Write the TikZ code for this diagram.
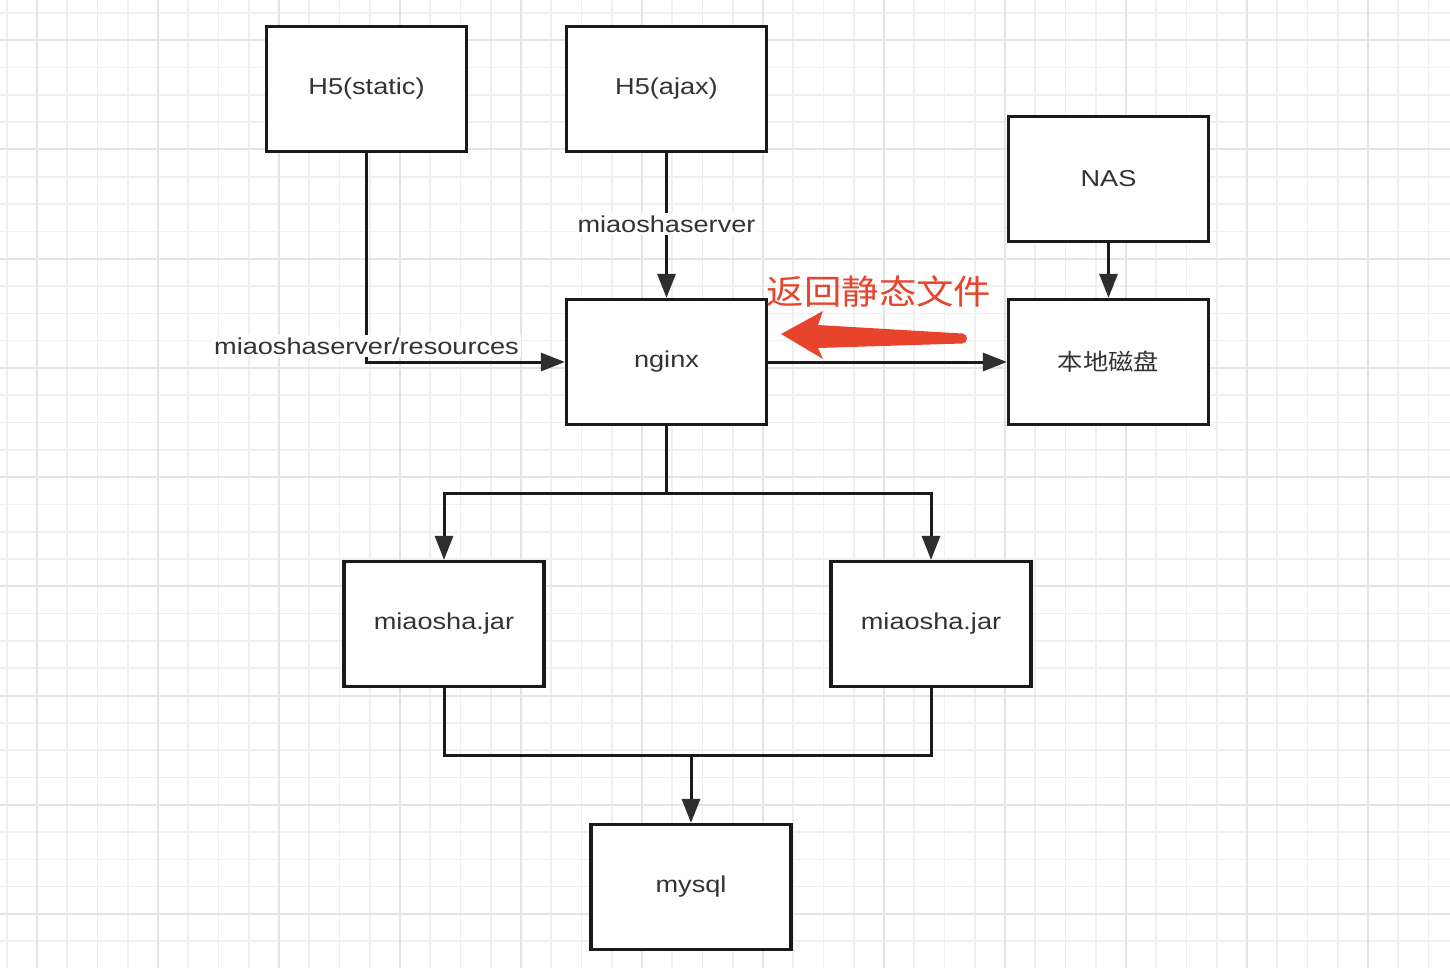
\documentclass[tikz,border=0pt]{standalone}
\usepackage{fontspec}
\usetikzlibrary{arrows.meta}
\newfontfamily\latf{Liberation Sans}[FakeStretch=1.18]
\newfontfamily\cjkf{Noto Sans CJK SC}[FakeStretch=1.1]
\definecolor{gthin}{HTML}{EFEFEF}
\definecolor{gthick}{HTML}{E4E4E4}
\definecolor{ink}{HTML}{1A1A1A}
\definecolor{tipc}{HTML}{2E2E2E}
\definecolor{txt}{HTML}{333333}
\definecolor{redc}{HTML}{E8442B}
\begin{document}
\begin{tikzpicture}[x=1pt,y=-1pt,
  box/.style={draw=ink,line width=3.2pt,fill=white,minimum width=200pt,minimum height=125pt,inner sep=0pt,text=txt,font=\latf\fontsize{23}{26}\selectfont},
  conn/.style={draw=ink,line width=3pt,-{Triangle[length=24pt,width=18pt,color=tipc]}},
  plain/.style={draw=ink,line width=3pt},
  lab/.style={fill=white,text=txt,inner xsep=2pt,inner ysep=3pt,font=\latf\fontsize{23}{26}\selectfont},
  redlab/.style={text=redc,inner sep=0pt,font=\cjkf\fontsize{34}{40}\selectfont},
  gridthin/.style={draw=gthin,line width=1.6pt},
  gridthick/.style={draw=gthick,line width=2pt}]
\useasboundingbox (0,0) rectangle (1450,968);
\fill[white] (0,0) rectangle (1450,968);
% grid
\foreach \k in {0,...,47} {\draw[gridthin] (6.75+30.25*\k,0) -- (6.75+30.25*\k,968);}
\foreach \k in {0,...,35} {\draw[gridthin] (0,13+27.3*\k) -- (1450,13+27.3*\k);}
\foreach \k in {1,5,...,45} {\draw[gridthick] (6.75+30.25*\k,0) -- (6.75+30.25*\k,968);}
\foreach \k in {1,5,...,33} {\draw[gridthick] (0,13+27.3*\k) -- (1450,13+27.3*\k);}
% nodes
\node[box] (h5s) at (366.5,89) {H5(static)};
\node[box] (h5a) at (666.5,89) {H5(ajax)};
\node[box] (nas) at (1108.5,179) {NAS};
\node[box,font=\cjkf\fontsize{23}{26}\selectfont] (disk) at (1108.5,362) {本地磁盘};
\node[box] (nginx) at (666.5,362) {nginx};
\node[box] (jar1) at (444,624) {miaosha.jar};
\node[box] (jar2) at (931,624) {miaosha.jar};
\node[box] (mysql) at (691,887) {mysql};
% connectors
\draw[conn] (h5s.south) |- (nginx.west);
\draw[conn] (h5a) -- (nginx);
\draw[conn] (nas) -- (disk);
\draw[conn] (nginx) -- (disk);
\coordinate (split) at (666.5,493);
\draw[plain] (nginx.south) -- (split);
\draw[conn] (split) -| (jar1.north);
\draw[conn] (split) -| (jar2.north);
\coordinate (join) at (691,755);
\draw[plain] (jar1.south) |- (jar2.south |- join) -- (jar2.south);
\draw[conn] (join) -- (mysql.north);
% connector labels
\node[lab] (lres) at (366.5,346) {miaoshaserver/resources};
\node[lab] (lsrv) at (666.5,224) {miaoshaserver};
% red annotation
\node[redlab] (ret) at (879,291) {返回静态文件};
\fill[redc] (781,334) -- (823,311) -- (818,325) -- (962,333.5) -- (962,343.5) -- (818,348) -- (823,359) -- cycle;
\fill[redc] (962,338.5) circle (5);
\end{tikzpicture}
\end{document}
